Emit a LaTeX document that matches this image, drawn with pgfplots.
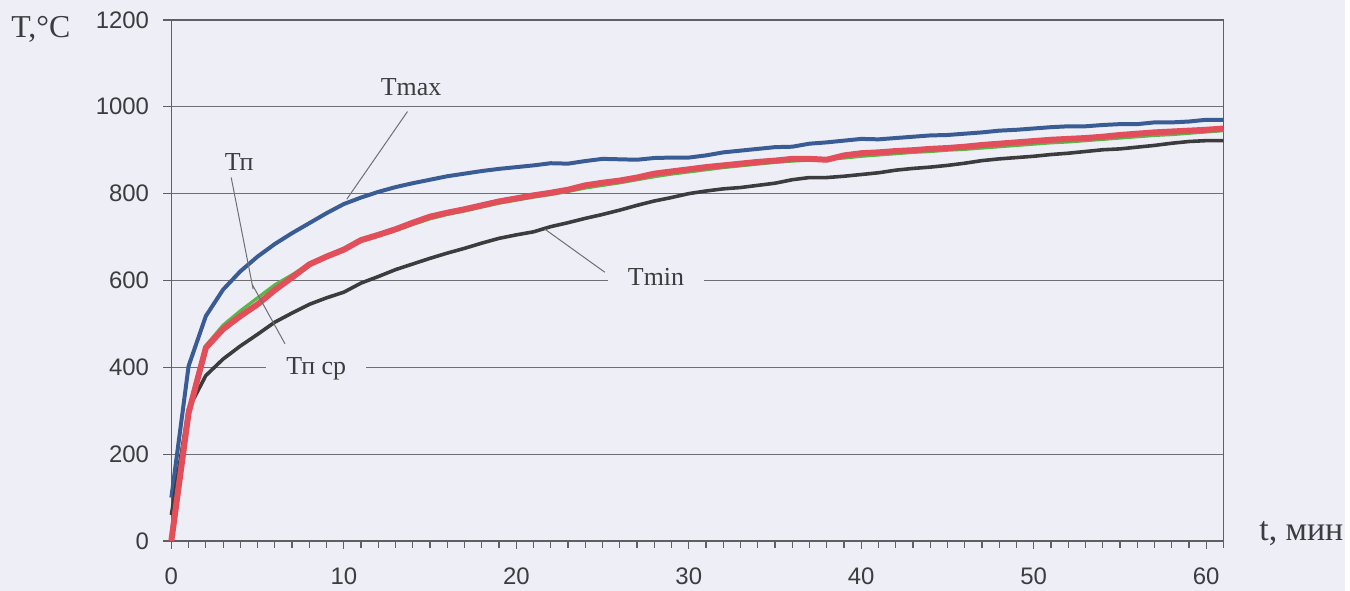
\documentclass[border=0pt]{standalone}
\usepackage{fontspec}
\setmainfont{Liberation Serif}
\setsansfont{Liberation Sans}
\usepackage{pgfplots}
\pgfplotsset{compat=1.18}
\definecolor{paper}{RGB}{238,238,246}
\definecolor{axc}{RGB}{95,95,100}
\definecolor{gridc}{RGB}{110,110,115}
\definecolor{labc}{RGB}{60,60,64}
\definecolor{tmax}{RGB}{58,92,148}
\definecolor{tmin}{RGB}{60,60,62}
\definecolor{tav}{RGB}{226,78,90}
\definecolor{tpn}{RGB}{90,182,72}

\tikzset{
  lbl/.style={font=\fontsize{13bp}{15bp}\selectfont, text=labc, fill=paper, inner xsep=10bp, inner ysep=1bp},
  ldr/.style={gridc, line width=0.5bp},
}

% T (deg C) vs t (min), one row per minute
\pgfplotstableread{
t  Tmax Tmin Tcp Tp
0  100  60   0    20
1  403  305  295  300
2  518  381  445  450
3  579  419  488  497
4  621  449  518  530
5  655  476  545  560
6  684  504  578  590
7  709  525  607  613
8  732  545  637  638
9  755  560  655  657
10 776  573  671  674
11 791  594  693  690
12 804  609  705  702
13 815  625  718  715
14 824  638  733  729
15 832  651  747  742
16 840  663  756  752
17 846  674  764  760
18 852  686  773  769
19 857  697  782  778
20 861  705  789  785
21 865  712  796  792
22 870  724  802  798
23 869  733  809  805
24 875  743  819  813
25 880  752  825  819
26 879  762  830  825
27 878  773  837  832
28 882  783  846  839
29 883  791  851  845
30 883  800  856  850
31 888  806  861  855
32 895  811  865  860
33 899  814  869  864
34 903  819  873  868
35 907  824  876  872
36 908  832  880  875
37 915  837  880  877
38 918  837  878  879
39 922  840  888  882
40 926  844  893  886
41 925  848  895  889
42 928  854  898  892
43 931  858  900  895
44 934  861  903  897
45 935  865  905  900
46 938  870  908  902
47 941  876  912  905
48 945  880  915  908
49 947  883  918  911
50 950  886  921  914
51 953  890  924  917
52 955  893  926  919
53 955  897  928  922
54 958  901  931  925
55 960  903  935  928
56 960  907  938  931
57 964  911  941  934
58 964  916  943  936
59 966  920  945  939
60 970  922  947  942
61 970  922  950  945
}\temps

\begin{document}
\begin{tikzpicture}
\fill[paper] (-86bp,-25bp) rectangle (589bp,271.5bp);
\begin{axis}[
  scale only axis, width=528bp, height=261.5bp,
  xmin=0, xmax=61, ymin=0, ymax=1200,
  xtick={0,10,...,60}, minor xtick={0,...,61},
  ytick={0,200,...,1200},
  tick pos=left, tick align=outside,
  major tick length=4bp, minor tick length=3.5bp,
  tick style={axc, line width=0.6bp},
  ymajorgrids, grid style={gridc, line width=0.6bp},
  axis line style={axc, line width=0.7bp},
  /pgf/number format/assume math mode=true,
  /pgf/number format/1000 sep={},
  ticklabel style={font=\sffamily\fontsize{12bp}{14bp}\selectfont, text=labc, inner sep=0pt},
  xticklabel style={anchor=north, yshift=-9.5bp},
  yticklabel style={anchor=east, xshift=-7bp},
  clip=false,
]
\addplot[tmax, line width=2bp, no markers] table[x=t, y=Tmax] {\temps};
\addplot[tmin, line width=1.8bp, no markers] table[x=t, y=Tmin] {\temps};
\addplot[tpn, line width=1.6bp, no markers] table[x=t, y=Tp] {\temps};
\addplot[tav, line width=3bp, no markers] table[x=t, y=Tcp] {\temps};

\draw[ldr] (axis cs:13.69,989) -- (axis cs:10.17,787);
\draw[ldr] (axis cs:3.47,837) -- (axis cs:4.74,580);
\draw[ldr] (axis cs:6.59,454) -- (axis cs:4.7,590);
\draw[ldr] (axis cs:21.66,718) -- (axis cs:25.13,619);

\node[lbl] at (axis cs:13.9,1046) {Tmax};
\node[lbl, fill=none] at (axis cs:3.93,873) {Тп};
\node[lbl] at (axis cs:8.4,397) {Тп ср};
\node[lbl] at (axis cs:28.1,608) {Tmin};

\node[font=\fontsize{16bp}{18bp}\selectfont, text=labc, xshift=-65.5bp, yshift=-4.5bp] at (rel axis cs:0,1) {T,°C};
\node[font=\fontsize{17bp}{19bp}\selectfont, text=labc, anchor=base west, xshift=14.5bp] at (rel axis cs:1,0) {t, мин};
\end{axis}
\end{tikzpicture}
\end{document}
